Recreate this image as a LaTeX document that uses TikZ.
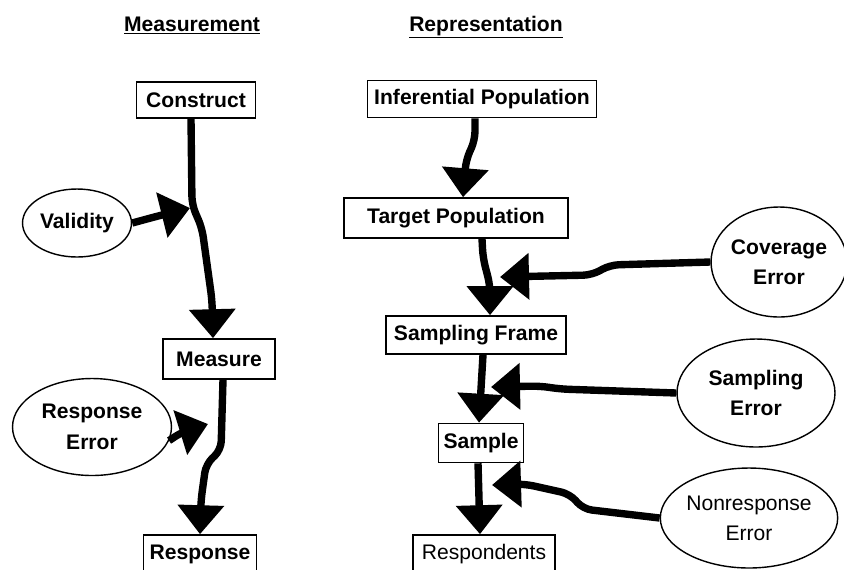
\documentclass[tikz,border=0pt]{standalone}
\usepackage{fontspec}
\setmainfont{Liberation Sans}
\usetikzlibrary{shapes.geometric,arrows.meta}

\tikzset{
	stage/.style={draw, line width=0.9pt, font=\fontsize{12}{15}\selectfont\bfseries, inner sep=0pt},
	source/.style={draw, ellipse, line width=0.8pt, align=center, inner sep=0pt, font=\fontsize{12}{15}\selectfont\bfseries},
	flow/.style={line width=4.2pt, rounded corners=5pt, -{Triangle[length=0.58cm,width=0.9cm]}},
	heading/.style={font=\fontsize{12}{15}\selectfont\bfseries, anchor=base}
}

\begin{document}
\begin{tikzpicture}[x=0.02cm,y=-0.02cm]
	\clip (0,0) rectangle (844,569);
	\fill[white] (0,0) rectangle (844,569);

	\node[heading] (meashead) at (192,31) {\underline{Measurement}};
	\node[heading] (rephead) at (486,31) {\underline{Representation}};

	% measurement side
	\node[stage, minimum width=2.38cm, minimum height=0.72cm] (construct) at (196,100) {Construct};
	\node[source, minimum width=2.18cm, minimum height=1.36cm] (validity) at (77,223) {Validity};
	\node[stage, minimum width=2.24cm, minimum height=0.8cm] (measure) at (219,359) {Measure};
	\node[source, minimum width=3.18cm, minimum height=1.94cm] (resperr) at (92,427) {Response\\[3pt]Error};
	\node[stage, minimum width=2.26cm, minimum height=0.76cm] (response) at (200,554) {Response};

	% representation side
	\node[stage, minimum width=4.58cm, minimum height=0.74cm] (inferential) at (482,99) {Inferential Population};
	\node[stage, minimum width=4.48cm, minimum height=0.8cm] (target) at (456,218) {Target Population};
	\node[source, minimum width=2.56cm, minimum height=2.2cm] (coverage) at (779,262) {Coverage\\[2pt]Error};
	\node[source, minimum width=3.16cm, minimum height=2.16cm] (samperr) at (756,393) {Sampling\\[2pt]Error};
	\node[stage, minimum width=3.6cm, minimum height=0.76cm] (frame) at (476,335) {Sampling Frame};
	\node[stage, minimum width=1.7cm, minimum height=0.78cm] (sample) at (481,443) {Sample};
	\node[source, minimum width=3.24cm, minimum height=2.0cm, font=\fontsize{12}{15}\selectfont] (nonresp) at (749,518) {Nonresponse\\[2pt]Error};
	\node[stage, minimum width=2.84cm, minimum height=0.76cm, font=\fontsize{12}{15}\selectfont] (respondents) at (484,554) {Respondents};

	\coordinate (vtip) at (190,208);
	\coordinate (rtip) at (208,424);
	\coordinate (ctip) at (500,277);
	\coordinate (stip) at (491,387);
	\coordinate (ntip) at (492,485);

	\draw[flow] ([xshift=-0.1cm]construct.south) -- (192,205) -- (202,228) -- (212,300) -- ([xshift=-0.12cm]measure.north);
	\draw[flow] (validity.east) -- (158,216) -- (vtip);
	\draw[flow] ([xshift=0.08cm]measure.south) -- (221,450) -- (206,464) -- (201,500) -- ([xshift=0cm]response.north);
	\draw[flow] (resperr.-10) -- (182,432) -- (rtip);

	\draw[flow] ([xshift=-0.14cm]inferential.south) -- (475,140) -- (466,160) -- ([xshift=0.14cm]target.north);
	\draw[flow] ([xshift=0.52cm]target.south) -- (483,258) -- (490,285) -- ([xshift=0.28cm]frame.north);
	\draw[flow] (coverage.west) -- (610,265) -- (592,275) -- (ctip);
	\draw[flow] ([xshift=0.14cm]frame.south) -- ([xshift=-0.04cm]sample.north);
	\draw[flow] (samperr.west) -- (560,389) -- (540,386) -- (stip);
	\draw[flow] ([xshift=-0.06cm]sample.south) -- ([xshift=-0.08cm]respondents.north);
	\draw[flow] (nonresp.west) -- (583,509) -- (570,494) -- (525,484) -- (ntip);
\end{tikzpicture}
\end{document}
